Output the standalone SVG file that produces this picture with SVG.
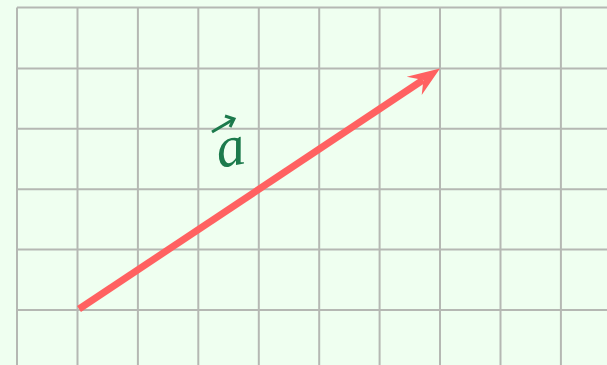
<svg xmlns="http://www.w3.org/2000/svg" width="607" height="365" viewBox="0 0 607 365">
<style>
.grid line{stroke:#b5b8b3;stroke-width:2}
.vec{stroke:#ff6161;stroke-width:7;fill:none}
.lbl{font-family:"Liberation Serif","DejaVu Serif",serif;font-style:italic;font-size:58px;fill:#1c7a4c}
.acc{stroke:#1c7a4c;stroke-width:3;fill:none}
</style>
<rect width="607" height="365" fill="#effff0"/>
<g class="grid">
<line x1="17" y1="7.5" x2="17" y2="365"/>
<line x1="77.5" y1="7.5" x2="77.5" y2="365"/>
<line x1="137.9" y1="7.5" x2="137.9" y2="365"/>
<line x1="198.3" y1="7.5" x2="198.3" y2="365"/>
<line x1="258.8" y1="7.5" x2="258.8" y2="365"/>
<line x1="319.2" y1="7.5" x2="319.2" y2="365"/>
<line x1="379.6" y1="7.5" x2="379.6" y2="365"/>
<line x1="440" y1="7.5" x2="440" y2="365"/>
<line x1="500.5" y1="7.5" x2="500.5" y2="365"/>
<line x1="560.9" y1="7.5" x2="560.9" y2="365"/>
<line x1="17" y1="7.5" x2="607" y2="7.5"/>
<line x1="17" y1="68.5" x2="607" y2="68.5"/>
<line x1="17" y1="128.8" x2="607" y2="128.8"/>
<line x1="17" y1="189.2" x2="607" y2="189.2"/>
<line x1="17" y1="249.6" x2="607" y2="249.6"/>
<line x1="17" y1="310" x2="607" y2="310"/>
</g>
<g id="connectors">
<line class="vec" x1="79" y1="309" x2="423" y2="80"/>
<polygon points="440,68.5 421.7,95 423.4,80 406.7,76.7" fill="#ff6161"/>
</g>
<g id="label-a">
<text class="lbl" x="0" y="0" transform="translate(219 168) rotate(-10)">a</text>
<line class="acc" x1="212" y1="132" x2="234" y2="119"/>
<polyline class="acc" points="225,116 234,119 230,127"/>
</g>
</svg>
